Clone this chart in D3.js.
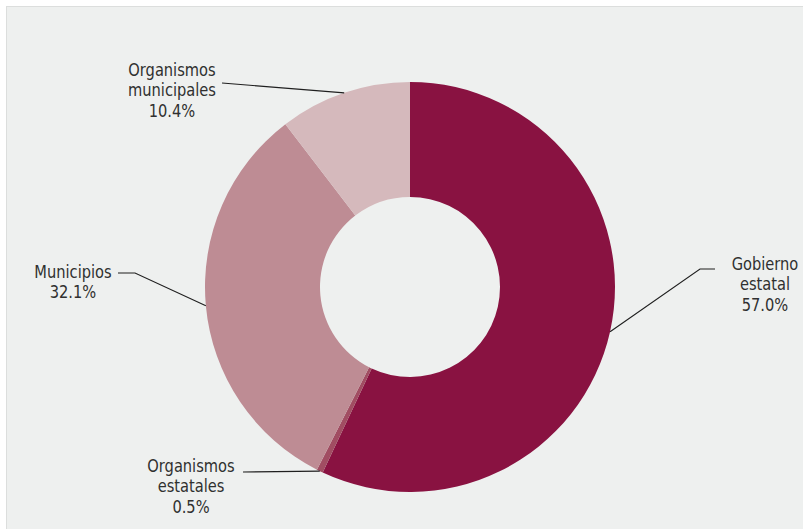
<!DOCTYPE html>
<html><head><meta charset="utf-8">
<script src="https://cdn.jsdelivr.net/npm/d3@7"></script>
<style>
html,body{margin:0;padding:0;background:#fff;}
svg{display:block;}
text{font-family:"DejaVu Sans Condensed","Liberation Sans Narrow","Roboto",sans-serif;fill:#303030;font-size:18.5px;}
</style></head>
<body>
<svg id="chart" width="803" height="529"></svg>
<script>
const categories = ["Gobierno estatal", "Organismos estatales", "Municipios", "Organismos municipales"];
const values = [57.0, 0.5, 32.1, 10.4];
const labelLines = [["Gobierno", "estatal", "57.0%"], ["Organismos", "estatales", "0.5%"], ["Municipios", "32.1%"], ["Organismos", "municipales", "10.4%"]];
const colors = ["#891241", "#a14d62", "#be8c94", "#d5b9bc"];

const W = 803, H = 529;
const svg = d3.select("#chart");
svg.append("rect").attr("x", 6.5).attr("y", 6.5).attr("width", W).attr("height", H)
  .attr("fill", "#eef0ef").attr("stroke", "#dcdedd").attr("stroke-width", 1);

const cx = 410, cy = 287, rOuter = 205, rInner = 90;
const g = svg.append("g").attr("transform", `translate(${cx},${cy})`);
const data = categories.map((c, i) => ({name: c, value: values[i], lines: labelLines[i], color: colors[i]}));
const pie = d3.pie().value(d => d.value).sort(null);
const arcs = pie(data);
const arc = d3.arc().innerRadius(rInner).outerRadius(rOuter);
const edgeArc = d3.arc().innerRadius(rOuter).outerRadius(rOuter);

g.selectAll("path.slice").data(arcs).enter().append("path")
  .attr("class", "slice").attr("d", arc).attr("fill", d => d.data.color);

// label layout (positions relative to chart, not data)
const layout = [
  {tx: 765, ty: 270, pts: [[715, 269], [700, 269]]},
  {tx: 191, ty: 472, pts: [[243, 472]]},
  {tx: 73, ty: 278, pts: [[118, 273], [135, 273]]},
  {tx: 172, ty: 76, pts: [[222, 83]]}
];
const lineH = 20.5;
arcs.forEach((a, i) => {
  const L = layout[i];
  const c = edgeArc.centroid(a);
  const pts = L.pts.concat([[c[0] + cx, c[1] + cy]]);
  svg.append("path").attr("d", d3.line()(pts)).attr("fill", "none")
    .attr("stroke", "#1f1f1f").attr("stroke-width", 1.1);
  const t = svg.append("text").attr("text-anchor", "middle")
    .attr("transform", `translate(${L.tx},${L.ty}) scale(0.88,1)`);
  a.data.lines.forEach((s, k) => {
    t.append("tspan").attr("x", 0).attr("y", k * lineH).text(s);
  });
});
</script>
</body></html>
